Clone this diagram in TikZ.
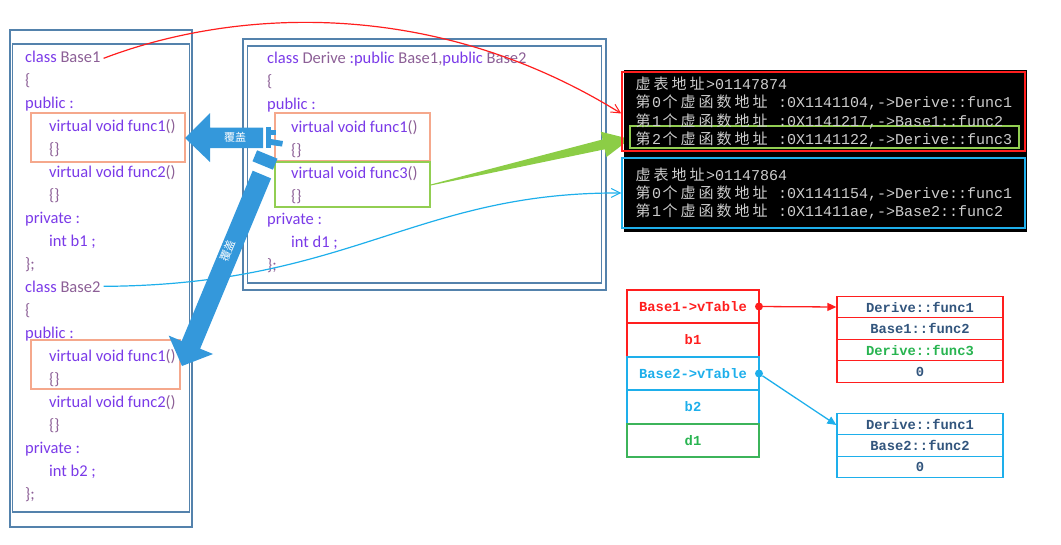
\documentclass[tikz,border=0pt]{standalone}
\usepackage{fontspec}
\setmainfont{Carlito}
\newfontfamily\cjk{Noto Sans CJK SC}
\newfontfamily\mono{Liberation Mono}
\usetikzlibrary{arrows.meta}
\definecolor{frm}{RGB}{84,130,172}
\definecolor{kw}{RGB}{122,58,232}
\definecolor{idc}{RGB}{140,95,150}
\definecolor{orng}{RGB}{245,168,140}
\definecolor{grnb}{RGB}{146,206,82}
\definecolor{blueA}{RGB}{52,152,219}
\definecolor{redL}{RGB}{255,30,30}
\definecolor{cyanL}{RGB}{30,175,235}
\definecolor{grnA}{RGB}{140,205,70}
\definecolor{congray}{RGB}{205,205,205}
\definecolor{tdark}{RGB}{50,85,125}
\definecolor{tgreen}{RGB}{40,180,80}
\definecolor{dgreen}{RGB}{60,180,90}
\newcommand\KW[1]{\textcolor{kw}{#1}}
\newcommand\ID[1]{\textcolor{idc}{#1}}
\newcommand\CJ[1]{\makebox[18pt][c]{\cjk #1}}
\begin{document}
\begin{tikzpicture}[x=1pt,y=-1pt,
  code/.style={anchor=base west, inner sep=0pt, font=\fontsize{16.5}{16.5}\selectfont},
  frame/.style={draw=frm, line width=1.6pt},
  obox/.style={draw=orng, line width=1.3pt, inner sep=0pt},
  gbox/.style={draw=grnb, line width=1.3pt, inner sep=0pt},
  con/.style={anchor=base west, inner sep=0pt, text=congray, font=\mono\fontsize{15}{15}\selectfont},
  cell/.style={draw, line width=1.3pt, inner sep=0pt, minimum width=132pt, font=\mono\bfseries\fontsize{13.8}{14}\selectfont},
  tcell/.style={draw, line width=1.3pt, inner sep=0pt, minimum width=166pt, minimum height=21.5pt, text=tdark, font=\mono\bfseries\fontsize{13.8}{14}\selectfont},
  barb/.style={-{Straight Barb[length=9pt,width=9pt,line width=1pt]}},
  cover/.style={text=white, inner sep=0pt, font=\cjk\fontsize{11}{11}\selectfont}
]
\useasboundingbox (0,0) rectangle (1061,544);

% ---------- left panel ----------
\draw[frame] (10,30) rectangle (192,527);
\draw[frame] (12.5,44) rectangle (189.5,512);
\node[obox, minimum width=154pt, minimum height=49pt] (ob1) at (108,137.5) {};
\node[obox, minimum width=149pt, minimum height=49pt] (ob2) at (105.5,364.5) {};

\node[code] (L0) at (25,62) {\KW{class} \ID{Base1}};
\node[code] (L1) at (25,85) {\ID{\{}};
\node[code] (L2) at (25,108) {\KW{public :}};
\node[code] (L3) at (49,131) {\KW{virtual void func1}\ID{()}};
\node[code] (L4) at (49,154) {\ID{\{\}}};
\node[code] (L5) at (49,177) {\KW{virtual void func2}\ID{()}};
\node[code] (L6) at (49,200) {\ID{\{\}}};
\node[code] (L7) at (25,223) {\KW{private :}};
\node[code] (L8) at (49,246) {\KW{int b1 ;}};
\node[code] (L9) at (25,269) {\ID{\};}};
\node[code] (L10) at (25,292) {\KW{class} \ID{Base2}};
\node[code] (L11) at (25,315) {\ID{\{}};
\node[code] (L12) at (25,338) {\KW{public :}};
\node[code] (L13) at (49,361) {\KW{virtual void func1}\ID{()}};
\node[code] (L14) at (49,384) {\ID{\{\}}};
\node[code] (L15) at (49,407) {\KW{virtual void func2}\ID{()}};
\node[code] (L16) at (49,430) {\ID{\{\}}};
\node[code] (L17) at (25,453) {\KW{private :}};
\node[code] (L18) at (49,476) {\KW{int b2 ;}};
\node[code] (L19) at (25,499) {\ID{\};}};

% ---------- middle panel ----------
\draw[frame] (243,39) rectangle (606,290);
\draw[frame] (247.5,46) rectangle (601.5,283);
\node[obox, minimum width=155pt, minimum height=48pt] (mob) at (352.5,137) {};
\node[gbox, minimum width=155pt, minimum height=45pt] (mgb) at (352.5,184.5) {};

\node[code] (M0) at (267,63) {\KW{class} \ID{Derive} \KW{:public} \ID{Base1,}\KW{public} \ID{Base2}};
\node[code] (M1) at (267,86) {\ID{\{}};
\node[code] (M2) at (267,109) {\KW{public :}};
\node[code] (M3) at (291,132) {\KW{virtual void func1}\ID{()}};
\node[code] (M4) at (291,155) {\ID{\{\}}};
\node[code] (M5) at (291,178) {\KW{virtual void func3}\ID{()}};
\node[code] (M6) at (291,201) {\ID{\{\}}};
\node[code] (M7) at (267,224) {\KW{private :}};
\node[code] (M8) at (291,247) {\KW{int d1 ;}};
\node[code] (M9) at (267,270) {\ID{\};}};

% ---------- green wedge arrow ----------
\fill[grnA] (mgb.east) -- (602.5,139.5) -- (600.8,131.7) -- (630,139) -- (606.4,157.1) -- (604.7,149.3) -- ([yshift=-1pt]mgb.east) -- cycle;

% ---------- console ----------
\fill[black] (624,70) rectangle (1027,232);
\node[draw=redL, line width=1.5pt, minimum width=403pt, minimum height=79pt, inner sep=0pt] (con1) at (823.5,111.5) {};
\node[draw=cyanL, line width=1.5pt, minimum width=403pt, minimum height=70pt, inner sep=0pt] (con2) at (823.5,193) {};
\node[draw=grnb, line width=1.3pt, minimum width=389pt, minimum height=22pt, inner sep=0pt] (con3) at (824.5,137) {};

\node[con] (c1) at (634,89) {\CJ{虚}\CJ{表}\CJ{地}\CJ{址}>01147874};
\node[con] (c2) at (634,107.5) {\CJ{第}0\CJ{个}\CJ{虚}\CJ{函}\CJ{数}\CJ{地}\CJ{址} :0X1141104,->Derive::func1};
\node[con] (c3) at (634,126) {\CJ{第}1\CJ{个}\CJ{虚}\CJ{函}\CJ{数}\CJ{地}\CJ{址} :0X1141217,->Base1::func2};
\node[con] (c4) at (634,144) {\CJ{第}2\CJ{个}\CJ{虚}\CJ{函}\CJ{数}\CJ{地}\CJ{址} :0X1141122,->Derive::func3};
\node[con] (c5) at (634,180) {\CJ{虚}\CJ{表}\CJ{地}\CJ{址}>01147864};
\node[con] (c6) at (634,198) {\CJ{第}0\CJ{个}\CJ{虚}\CJ{函}\CJ{数}\CJ{地}\CJ{址} :0X1141154,->Derive::func1};
\node[con] (c7) at (634,216) {\CJ{第}1\CJ{个}\CJ{虚}\CJ{函}\CJ{数}\CJ{地}\CJ{址} :0X11411ae,->Base2::func2};

% ---------- curved connectors ----------
\draw[redL, line width=1.2pt, barb] ([xshift=3pt,yshift=-2pt]L0.east) .. controls (230,10) and (430,-5) .. ([yshift=-2pt]con1.west);
\draw[cyanL, line width=1.2pt, barb] ([xshift=3pt]L10.east) .. controls (350,285) and (415,192) .. (con2.west);

% ---------- blue block arrows ----------
\fill[blueA] (185,138) -- (210,113) -- (210,127.5) -- (263,127.5) -- (263,148) -- (210,148) -- (210,162) -- cycle;
\fill[blueA] (266,127) rectangle (271,148);
\fill[blueA] (271,130) rectangle (276,135);
\fill[blueA] (271,139) -- (283,141) -- (282,146.5) -- (271,145) -- cycle;
\node[cover] (cov1) at (235,137.5) {覆盖};

\fill[blueA] (252.7,170.7) -- (271.1,178.4) -- (200.1,348.7) -- (213.1,354.0) -- (182,366) -- (168.7,335.6) -- (181.7,341.0) -- cycle;
\fill[blueA] (252.5,161.3) -- (257.1,150.3) -- (277.5,158.7) -- (272.9,169.7) -- cycle;
\node[cover, rotate=67.4] (cov2) at (228,251) {覆盖};

% ---------- memory layout ----------
\node[cell, draw=redL, text=redL, minimum height=33pt] (r1) at (693,306.5) {Base1->vTable};
\node[cell, draw=redL, text=redL, minimum height=34pt] (r2) at (693,340) {b1};
\node[cell, draw=cyanL, text=cyanL, minimum height=33pt] (r3) at (693,373.5) {Base2->vTable};
\node[cell, draw=cyanL, text=cyanL, minimum height=34pt] (r4) at (693,407) {b2};
\node[cell, draw=dgreen, text=tgreen, minimum height=33pt] (r5) at (693,440.5) {d1};
\draw[cyanL, line width=1.3pt] (r3.north west) -- (r3.north east);

\node[tcell, draw=redL] (t1a) at (920,307) {Derive::func1};
\node[tcell, draw=redL] (t1b) at (920,328.5) {Base1::func2};
\node[tcell, draw=redL, text=tgreen] (t1c) at (920,350) {Derive::func3};
\node[tcell, draw=redL] (t1d) at (920,371.5) {0};

\node[tcell, draw=cyanL] (t2a) at (920,424) {Derive::func1};
\node[tcell, draw=cyanL] (t2b) at (920,445.5) {Base2::func2};
\node[tcell, draw=cyanL] (t2c) at (920,467) {0};

\node[circle, fill=redL, inner sep=0pt, minimum size=8pt] (dr) at (759,306.5) {};
\node[circle, fill=cyanL, inner sep=0pt, minimum size=8pt] (dc) at (759,373.5) {};
\draw[redL, line width=1.3pt, -{Triangle[length=9pt,width=8pt]}] (dr) -- (t1a.west);
\draw[cyanL, line width=1.3pt, -{Triangle[length=9pt,width=8pt]}] (dc) -- ([yshift=-1pt]t2a.west);
\end{tikzpicture}
\end{document}
